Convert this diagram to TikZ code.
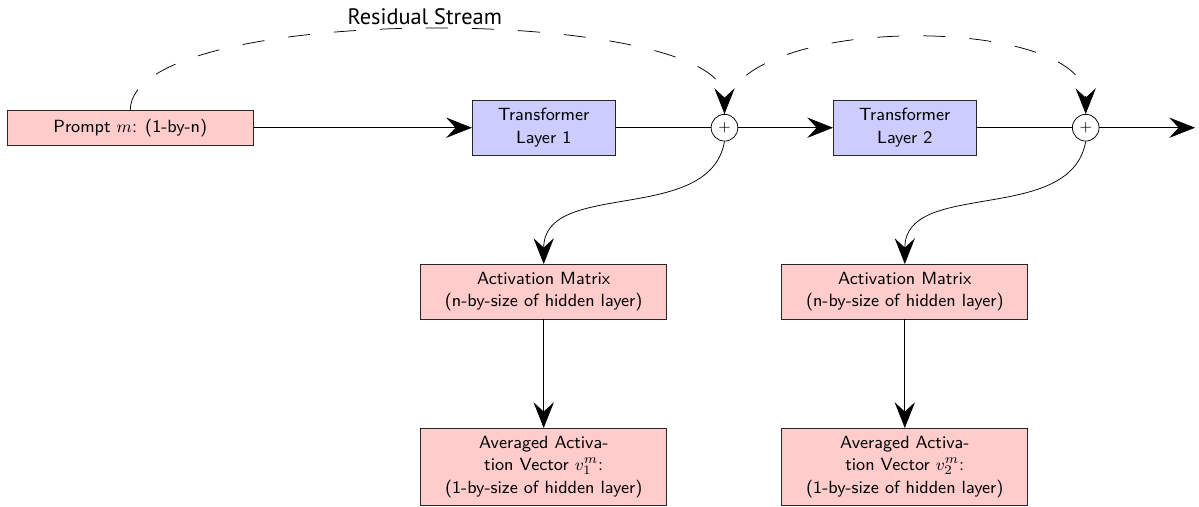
\documentclass[tikz,border=0pt]{standalone}
\usepackage{fontspec}
\newfontfamily\rsfont{PT Sans}
\usetikzlibrary{arrows.meta}
\begin{document}
\begin{tikzpicture}[x=0.532pt,y=-0.532pt,
  boxfont/.style={font=\sffamily\fontsize{9.4}{12}\selectfont},
  box/.style={draw=black!85, boxfont, align=center, inner sep=0pt},
  pinkbox/.style={box, fill=red!20},
  bluebox/.style={box, fill=blue!20},
  sumnode/.style={draw=black, circle, fill=white, minimum size=14.2pt, inner sep=0pt, font=\sffamily\footnotesize},
  arr/.style={-{Stealth[length=13.7pt,width=10.8pt,inset=5pt]}},
  res/.style={dash pattern=on 11.7pt off 12.8pt, arr}
]
\useasboundingbox (0,0) rectangle (1199,506);
\node[pinkbox, minimum width=130.9pt, minimum height=18.4pt] (prompt) at (130.3,127.7) {Prompt $m$: (1-by-n)};
\node[bluebox, minimum width=76pt, minimum height=29.4pt] (t1) at (543.7,127.7) {Transformer\\Layer 1};
\node[sumnode] (p1) at (724.5,127.7) {+};
\node[bluebox, minimum width=76pt, minimum height=29.4pt] (t2) at (904.8,127.7) {Transformer\\Layer 2};
\node[sumnode] (p2) at (1085.7,127.7) {+};
\coordinate (out) at (1195,127.7);
\node[pinkbox, minimum width=130.9pt, minimum height=29.1pt] (am1) at (543.7,291.7) {Activation Matrix\\(n-by-size of hidden layer)};
\node[pinkbox, minimum width=130.9pt, minimum height=29.1pt] (am2) at (904.8,291.7) {Activation Matrix\\(n-by-size of hidden layer)};
\node[pinkbox, minimum width=130.9pt, minimum height=40.8pt] (av1) at (543.7,466.7) {Averaged Activa-\\tion Vector $v_1^m$:\\(1-by-size of hidden layer)};
\node[pinkbox, minimum width=130.9pt, minimum height=40.8pt] (av2) at (904.8,466.7) {Averaged Activa-\\tion Vector $v_2^m$:\\(1-by-size of hidden layer)};

\draw[arr] (prompt.east) -- (t1.west);
\draw (t1.east) -- (p1.west);
\draw[arr] (p1.east) -- (t2.west);
\draw (t2.east) -- (p2.west);
\draw[arr] (p2.east) -- (out);

\draw[arr] (p1.south) to[out=-100,in=90] (am1.north);
\draw[arr] (p2.south) to[out=-100,in=90] (am2.north);
\draw[arr] (am1.south) -- (av1.north);
\draw[arr] (am2.south) -- (av2.north);

\draw[res] (prompt.north) to[out=90,in=90,looseness=0.47] node[above, pos=0.497, inner sep=2.5pt, font=\rsfont\fontsize{11.9}{14}\selectfont] {Residual Stream} (p1.north);
\draw[res] (p1.north) to[out=90,in=90,looseness=0.72] (p2.north);
\end{tikzpicture}
\end{document}
